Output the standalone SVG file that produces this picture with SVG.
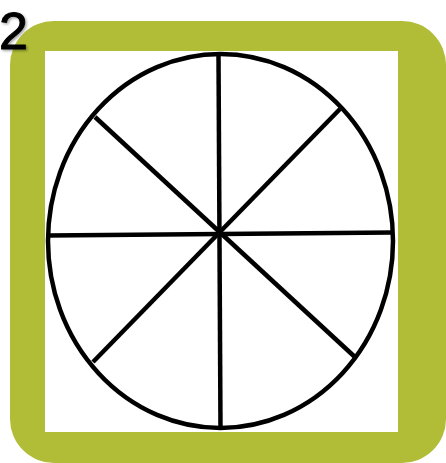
<svg xmlns="http://www.w3.org/2000/svg" width="446" height="463" viewBox="0 0 446 463">
<defs>
<filter id="sh" x="-20%" y="-20%" width="150%" height="150%">
<feDropShadow dx="1.5" dy="1.5" stdDeviation="1" flood-color="#000" flood-opacity="0.35"/>
</filter>
</defs>
<style>
.ln{stroke:#000;stroke-width:4.5;fill:none;stroke-linecap:butt}
</style>
<rect width="446" height="463" fill="#fff"/>
<g id="frame">
<rect x="10" y="21" width="436" height="442" rx="44" ry="44" fill="#b1bd37"/>
<rect x="45" y="51" width="353" height="381" fill="#fff"/>
</g>
<g id="wheel">
<ellipse class="ln" cx="220.5" cy="241" rx="172.5" ry="187"/>
</g>
<g id="connectors">
<line class="ln" x1="218.5" y1="55" x2="220.5" y2="429"/>
<line class="ln" x1="48" y1="235.5" x2="393" y2="232.5"/>
<line class="ln" x1="95" y1="117" x2="356" y2="358"/>
<line class="ln" x1="340" y1="109" x2="93" y2="362"/>
</g>
<g id="label">
<text x="-1" y="49" font-family="Liberation Sans, Arial, sans-serif" font-size="52" fill="#000" stroke="#000" stroke-width="1" filter="url(#sh)">2</text>
</g>
</svg>
